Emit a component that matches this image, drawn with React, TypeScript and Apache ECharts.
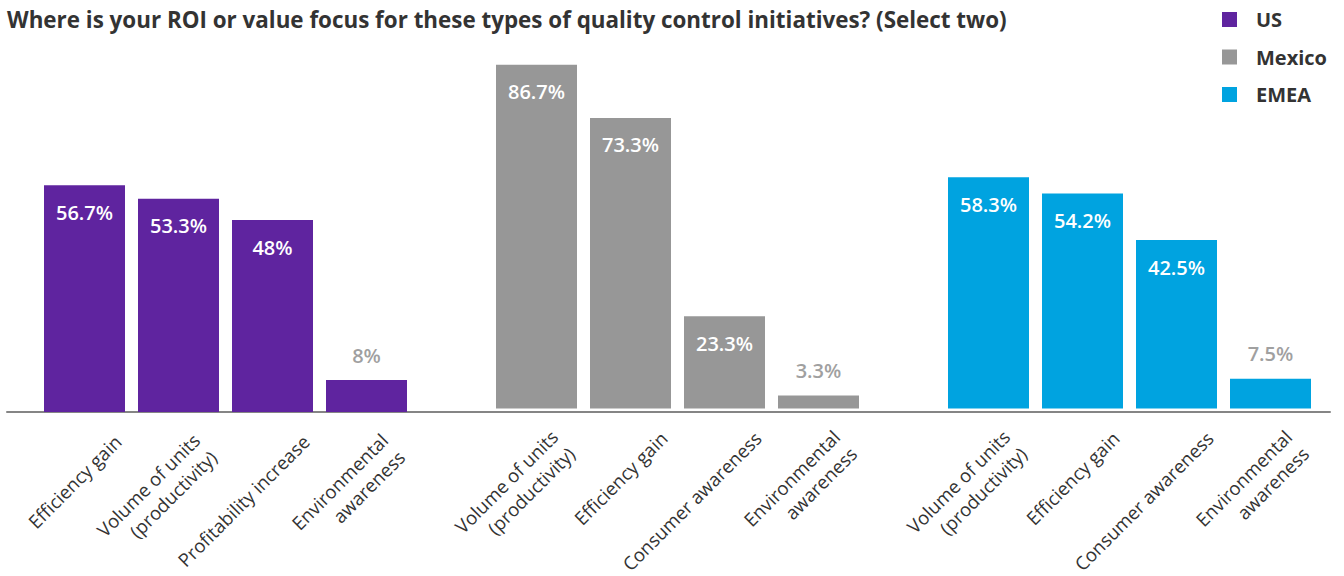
import React, { useEffect, useRef } from "react";
import * as echarts from "echarts";

const titleText =
  "Where is your ROI or value focus for these types of quality control initiatives? (Select two)";
const regionNames = ["US", "Mexico", "EMEA"];

const usCategories = [
  "Efficiency gain",
  "Volume of units\n(productivity)",
  "Profitability increase",
  "Environmental\nawareness",
];
const usValues = [56.7, 53.3, 48, 8];

const mexicoCategories = [
  "Volume of units\n(productivity)",
  "Efficiency gain",
  "Consumer awareness",
  "Environmental\nawareness",
];
const mexicoValues = [86.7, 73.3, 23.3, 3.3];

const emeaCategories = [
  "Volume of units\n(productivity)",
  "Efficiency gain",
  "Consumer awareness",
  "Environmental\nawareness",
];
const emeaValues = [58.3, 54.2, 42.5, 7.5];

const FONT = "'Open Sans', 'Noto Sans', sans-serif";
const colors = ["#5F249F", "#979797", "#00A3E0"];
const groupLefts = [37.5, 489.5, 941.5];
const GROUP_WIDTH = 376;

export default function App() {
  const ref = useRef<HTMLDivElement>(null);

  useEffect(() => {
    document.body.style.margin = "0";
    if (!ref.current) return;
    const chart = echarts.init(ref.current, undefined, { renderer: "svg" });

    const groups = [
      { cats: usCategories, vals: usValues },
      { cats: mexicoCategories, vals: mexicoValues },
      { cats: emeaCategories, vals: emeaValues },
    ];

    const insideLabel = {
      show: true,
      position: "insideTop",
      distance: 17,
      color: "#ffffff",
      fontSize: 20,
      fontWeight: 600,
      fontFamily: FONT,
      formatter: "{c}%",
    };
    const outsideLabel = {
      show: true,
      position: "top",
      distance: 15,
      color: "#a0a0a0",
      fontSize: 20,
      fontWeight: 600,
      fontFamily: FONT,
      formatter: "{c}%",
    };

    const labelText = {
      fontSize: 18.6,
      fontFamily: FONT,
      color: "#333333",
      lineHeight: 24,
    };

    const grids: any[] = groups.map((_, i) => ({
      left: groupLefts[i],
      width: GROUP_WIDTH,
      top: 12,
      bottom: 164,
    }));
    grids.push({ left: 7, right: 14, top: 12, bottom: 164.5 });

    const xAxes: any[] = groups.map((g, i) => ({
      type: "category",
      gridIndex: i,
      data: g.cats,
      axisLine: { show: false },
      axisTick: { show: false },
      axisLabel: {
        interval: 0,
        rotate: 45,
        margin: 0,
        padding: [84, -5, 0, 0],
        formatter: (v: string) =>
          v.includes("\n")
            ? v
                .split("\n")
                .map((s) => `{m|${s}}`)
                .join("\n")
            : `{s|${v}}`,
        rich: {
          s: { ...labelText },
          m: { ...labelText, padding: [0, 10, 0, 0] },
        },
      },
    }));
    xAxes.push({
      type: "value",
      gridIndex: 3,
      min: 0,
      max: 1,
      axisLine: { show: true, lineStyle: { color: "#858585", width: 2 } },
      axisTick: { show: false },
      axisLabel: { show: false },
      splitLine: { show: false },
    });

    const yAxes: any[] = [0, 1, 2, 3].map((i) => ({
      type: "value",
      gridIndex: i,
      min: 0,
      max: 100,
      show: false,
      splitLine: { show: false },
    }));

    const series: any[] = groups.map((g, i) => ({
      name: regionNames[i],
      type: "bar",
      xAxisIndex: i,
      yAxisIndex: i,
      barWidth: 81,
      itemStyle: { color: colors[i] },
      data: g.vals.map((v) => ({
        value: v,
        label: v < 15 ? outsideLabel : insideLabel,
      })),
    }));

    chart.setOption({
      animation: false,
      backgroundColor: "#ffffff",
      title: {
        text: titleText,
        left: 7,
        top: 8,
        padding: 0,
        textStyle: {
          fontSize: 22.4,
          fontWeight: "bold",
          fontFamily: FONT,
          color: "#333333",
        },
      },
      legend: {
        data: regionNames,
        orient: "vertical",
        left: 1222,
        top: 9.5,
        padding: 0,
        itemWidth: 15,
        itemHeight: 15,
        itemGap: 17.5,
        icon: "rect",
        textStyle: {
          fontSize: 20,
          fontWeight: "bold",
          fontFamily: FONT,
          color: "#333333",
          padding: [0, 0, 0, 14],
        },
      },
      grid: grids,
      xAxis: xAxes,
      yAxis: yAxes,
      series,
    });

    return () => chart.dispose();
  }, []);

  return <div ref={ref} style={{ width: 1344, height: 576 }} />;
}
